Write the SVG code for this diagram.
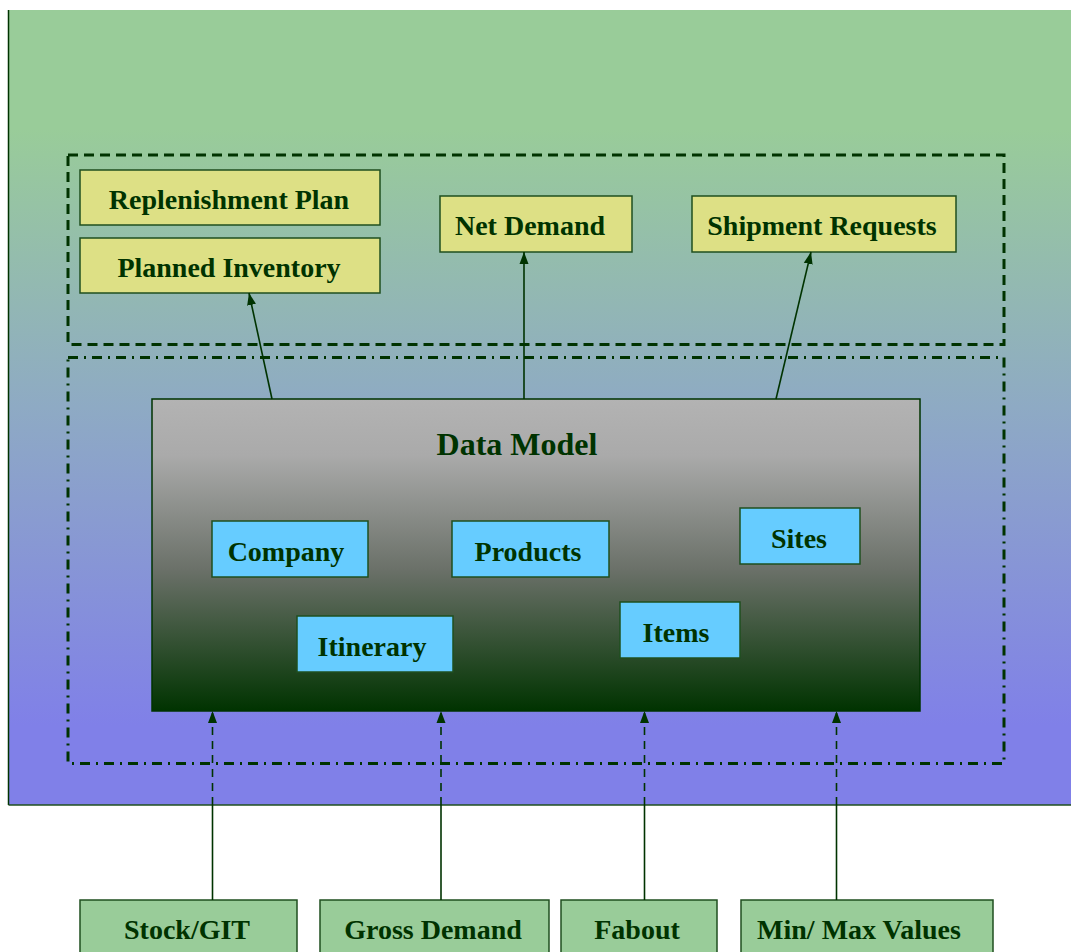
<svg xmlns="http://www.w3.org/2000/svg" width="1071" height="952" viewBox="0 0 1071 952">
<defs>
<linearGradient id="bgGrad" x1="0" y1="0" x2="0" y2="1">
<stop offset="0" stop-color="#99cc99"/>
<stop offset="0.15" stop-color="#99cc99"/>
<stop offset="0.5" stop-color="#8eaac4"/>
<stop offset="0.9" stop-color="#8080e8"/>
<stop offset="1" stop-color="#8080e8"/>
</linearGradient>
<linearGradient id="dmGrad" x1="0" y1="0" x2="0" y2="1">
<stop offset="0" stop-color="#b3b3b3"/>
<stop offset="0.18" stop-color="#aaaaaa"/>
<stop offset="0.55" stop-color="#6a7068"/>
<stop offset="1" stop-color="#003300"/>
</linearGradient>
<marker id="arr" viewBox="0 0 12 10" refX="12" refY="5" markerWidth="12" markerHeight="10" markerUnits="userSpaceOnUse" orient="auto">
<path d="M0,0.5 L12,5 L0,9.5 z" fill="#003300"/>
</marker>
<style>
.yel{fill:#dde085;stroke:#1f4f1f;stroke-width:1.5}
.blu{fill:#66ccff;stroke:#1f4f1f;stroke-width:1.5}
.grn{fill:#99cc99;stroke:#1f4f1f;stroke-width:1.5}
.t{font-family:"Liberation Serif","Times New Roman",serif;font-weight:bold;font-size:28px;fill:#003300;text-anchor:middle}
.ln{stroke:#003300;stroke-width:1.6;fill:none}
.dash{stroke:#003300;stroke-width:1.6;fill:none;stroke-dasharray:8,6}
</style>
</defs>

<g id="background">
<rect x="8.5" y="10" width="1070" height="795" fill="url(#bgGrad)"/>
<line x1="8.5" y1="10" x2="8.5" y2="805" stroke="#003300" stroke-width="1.5"/>
<line x1="8.5" y1="805" x2="1071" y2="805" stroke="#1f4f1f" stroke-width="1.5"/>
</g>

<g id="output-group">
<rect x="68" y="155" width="936" height="189.5" fill="none" stroke="#003300" stroke-width="3" stroke-dasharray="10,6"/>
</g>
<g id="model-group">
<rect x="68" y="357.5" width="936" height="406" fill="none" stroke="#003300" stroke-width="3" stroke-dasharray="10,6,2,6"/>
</g>

<g id="data-model">
<rect x="152" y="399" width="768" height="312" fill="url(#dmGrad)" stroke="#003300" stroke-width="1.5"/>
<text class="t" x="517" y="455" style="font-size:32px">Data Model</text>
</g>

<g id="replenishment-plan">
<rect class="yel" x="80" y="170" width="300" height="55"/>
<text class="t" x="229" y="209">Replenishment Plan</text>
</g>
<g id="planned-inventory">
<rect class="yel" x="80" y="238" width="300" height="55"/>
<text class="t" x="229" y="277">Planned Inventory</text>
</g>
<g id="net-demand">
<rect class="yel" x="440" y="196" width="192" height="56"/>
<text class="t" x="530" y="235">Net Demand</text>
</g>
<g id="shipment-requests">
<rect class="yel" x="692" y="196" width="264" height="56"/>
<text class="t" x="822" y="235">Shipment Requests</text>
</g>

<g id="company">
<rect class="blu" x="212" y="521" width="156" height="56"/>
<text class="t" x="286" y="561">Company</text>
</g>
<g id="products">
<rect class="blu" x="452" y="521" width="157" height="56"/>
<text class="t" x="528" y="561">Products</text>
</g>
<g id="sites">
<rect class="blu" x="740" y="508" width="120" height="56"/>
<text class="t" x="799" y="548">Sites</text>
</g>
<g id="itinerary">
<rect class="blu" x="297" y="616" width="156" height="56"/>
<text class="t" x="372" y="656">Itinerary</text>
</g>
<g id="items">
<rect class="blu" x="620" y="602" width="120" height="56"/>
<text class="t" x="676" y="642">Items</text>
</g>

<g id="stock-git">
<rect class="grn" x="80" y="900" width="217" height="60"/>
<text class="t" x="187" y="939">Stock/GIT</text>
</g>
<g id="gross-demand">
<rect class="grn" x="320" y="900" width="229" height="60"/>
<text class="t" x="433" y="939">Gross Demand</text>
</g>
<g id="fabout">
<rect class="grn" x="561" y="900" width="156" height="60"/>
<text class="t" x="637" y="939">Fabout</text>
</g>
<g id="min-max-values">
<rect class="grn" x="741" y="900" width="252" height="60"/>
<text class="t" x="859" y="939">Min/ Max Values</text>
</g>

<g id="connectors">
<line class="ln" x1="272" y1="399" x2="249" y2="293" marker-end="url(#arr)"/>
<line class="ln" x1="524" y1="399" x2="524" y2="252" marker-end="url(#arr)"/>
<line class="ln" x1="776" y1="399" x2="811" y2="252" marker-end="url(#arr)"/>

<line class="ln" x1="212.5" y1="900" x2="212.5" y2="805"/>
<line class="dash" x1="212.5" y1="805" x2="212.5" y2="711" marker-end="url(#arr)"/>
<line class="ln" x1="441" y1="900" x2="441" y2="805"/>
<line class="dash" x1="441" y1="805" x2="441" y2="711" marker-end="url(#arr)"/>
<line class="ln" x1="644.5" y1="900" x2="644.5" y2="805"/>
<line class="dash" x1="644.5" y1="805" x2="644.5" y2="711" marker-end="url(#arr)"/>
<line class="ln" x1="836.5" y1="900" x2="836.5" y2="805"/>
<line class="dash" x1="836.5" y1="805" x2="836.5" y2="711" marker-end="url(#arr)"/>
</g>
</svg>
